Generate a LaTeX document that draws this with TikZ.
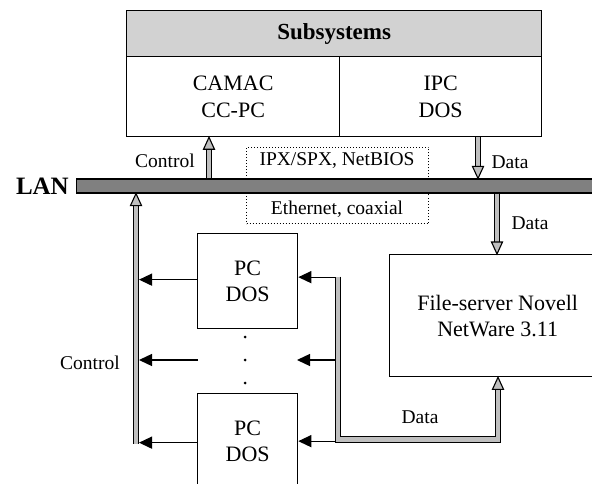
\documentclass[tikz,border=0pt]{standalone}
\usepackage{fontspec}
\setmainfont{Liberation Serif}
\usetikzlibrary{arrows.meta,calc}
\begin{document}
\begin{tikzpicture}[x=1pt,y=-1pt,
  box/.style={draw, line width=1.3pt, inner sep=0pt, align=center,
    font=\fontsize{22}{26}\selectfont},
  lbl/.style={font=\fontsize{19.5}{23}\selectfont, inner sep=0pt},
  thinarr/.style={line width=1.3pt, -{Triangle[length=13pt,width=12pt]}},
  fat/.style={double=gray!50, double distance=4.5pt, line width=1.1pt},
  fathead/.pic={\filldraw[fill=gray!50, line width=1.1pt, line join=miter]
    (0,0) -- (-12,5.5) -- (-12,-5.5) -- cycle;}
]
\clip (0,0) rectangle (592,484);
% x positions for vertical connectors
\coordinate (xa) at (209,0);
\coordinate (xb) at (478,0);
\coordinate (xc) at (497,0);
\coordinate (cbc) at (136,0);
\coordinate (cbx) at (139,0);
\coordinate (dbar) at (338,0);
\coordinate (dbx) at (335,0);
\coordinate (fsx) at (498,0);

% Subsystems block
\node[draw, line width=1.3pt, fill=gray!35, minimum width=415pt, minimum height=46pt,
  anchor=north west, inner sep=0pt, font=\bfseries\fontsize{23}{27}\selectfont] (sub) at (126,10) {Subsystems};
\node[box, minimum width=213pt, minimum height=80pt, anchor=north west,
  font=\fontsize{22}{27}\selectfont] (camac) at (126,56) {CAMAC\\CC-PC};
\node[box, minimum width=202pt, minimum height=80pt, anchor=north west,
  font=\fontsize{22}{27}\selectfont] (ipc) at (339,56) {IPC\\DOS};

% protocol box (dotted)
\node[draw, dotted, line width=1pt, minimum width=182pt, minimum height=76pt,
  anchor=north west, inner sep=0pt] (proto) at (246,147) {};
\node[lbl] (ipx) at (337,161) {IPX/SPX, NetBIOS};
\node[lbl] (eth) at (337,209) {Ethernet, coaxial};

% LAN bar
\node[draw, line width=1.1pt, fill=black!50, minimum width=530pt, minimum height=14pt,
  anchor=west, inner sep=0pt] (lan) at (76,186) {};
\node[font=\bfseries\fontsize{25}{30}\selectfont, anchor=east, inner sep=0pt] (lantxt) at (69,186) {LAN};

% file server
\node[box, minimum width=216pt, minimum height=122pt, anchor=north west] (fs) at (389,254)
  {File-server Novell\\NetWare 3.11};

% PCs
\node[box, minimum width=100pt, minimum height=95pt, anchor=north west] (pc1) at (197,233) {PC\\DOS};
\node[box, minimum width=100pt, minimum height=95pt, anchor=north west] (pc2) at (197,393) {PC\\DOS};
\coordinate (midL) at (198,360);
\coordinate (midR) at (297,360);
\fill (245,337) circle (1.5pt) (245,360) circle (1.5pt) (245,383) circle (1.5pt);

% thin arrows to control bar
\draw[thinarr] ($(pc1.west)+(0,-1.5)$) -- ($(pc1.west -| cbx)+(0,-1.5)$);
\draw[thinarr] (midL) -- (midL -| cbx);
\draw[thinarr] ($(pc2.west)+(0,1.5)$) -- ($(pc2.west -| cbx)+(0,1.5)$);
% thin arrows from data bar
\draw[thinarr] ($(pc1.east -| dbx)+(0,-4)$) -- ($(pc1.east)+(0,-4)$);
\draw[thinarr] (midR -| dbx) -- (midR);
\draw[thinarr] (pc2.east -| dbx) -- (pc2.east);

% fat arrows
\draw[fat] (lan.north -| xa) -- ($(camac.south -| xa)+(0,12)$);
\pic[rotate=90] at (camac.south -| xa) {fathead};

\draw[fat] (ipc.south -| xb) -- ($(lan.north -| xb)+(0,-12)$);
\pic[rotate=-90] at (lan.north -| xb) {fathead};

\draw[fat] (lan.south -| xc) -- ($(fs.north -| xc)+(0,-12)$);
\pic[rotate=-90] at (fs.north -| xc) {fathead};

\draw[fat] ($(pc2.west -| cbc)+(0,2.5)$) -- ($(lan.south -| cbc)+(0,12)$);
\pic[rotate=90] at (lan.south -| cbc) {fathead};

\draw[fat, line join=miter] ($(pc1.east -| dbar)+(0,-4.5)$) -- ($(pc2.east -| dbar)+(0,-1.5)$)
  -- ($(pc2.east -| fsx)+(0,-1.5)$) -- ($(fs.south -| fsx)+(0,12)$);
\pic[rotate=90] at (fs.south -| fsx) {fathead};

% labels
\node[lbl] (lctl1) at (165,161) {Control};
\node[lbl] (ldat1) at (510,162) {Data};
\node[lbl] (ldat2) at (530,223) {Data};
\node[lbl] (ldat3) at (420,417) {Data};
\node[lbl] (lctl2) at (90,363) {Control};
\end{tikzpicture}
\end{document}
